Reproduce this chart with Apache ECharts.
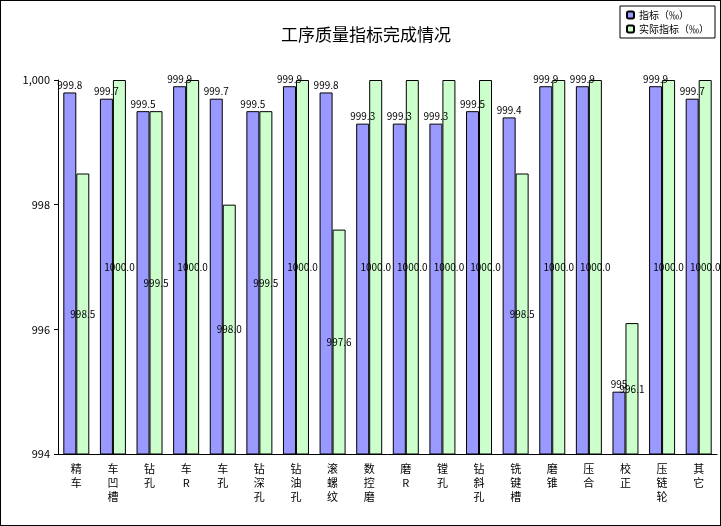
<!DOCTYPE html>
<html><head><meta charset="utf-8">
<script src="https://cdn.jsdelivr.net/npm/echarts@6/dist/echarts.min.js"></script>
<style>html,body{margin:0;padding:0;background:#fff}#c{width:721px;height:526px;box-sizing:border-box;border:1px solid #000}</style>
</head><body><div id="c"></div>
<script>
const categories = ['精车','车凹槽','钻孔','车R','车孔','钻深孔','钻油孔','滚螺纹','数控磨','磨R','镗孔','钻斜孔','铣键槽','磨锥','压合','校正','压链轮','其它'];
const target = [999.8,999.7,999.5,999.9,999.7,999.5,999.9,999.8,999.3,999.3,999.3,999.5,999.4,999.9,999.9,995,999.9,999.7];
const actual = [998.5,1000,999.5,1000,998.0,999.5,1000,997.6,1000,1000,1000,1000,998.5,1000,1000,996.1,1000,1000];
const yTicks = [994,996,998,1000];
const font = '"Noto Sans CJK SC", sans-serif';
const chart = echarts.init(document.getElementById('c'));
chart.setOption({
  animation:false,
  title:{text:'工序质量指标完成情况',left:360,top:20,textAlign:'center',textStyle:{fontFamily:font,fontSize:17,fontWeight:'normal',color:'#000'}},
  legend:{right:5,top:5,orient:'vertical',itemWidth:7,itemHeight:7,itemGap:4,borderColor:'#000',borderWidth:1,padding:[4,6],
    textStyle:{fontFamily:font,fontSize:10,color:'#000'}},
  grid:{left:57,right:3,top:79,bottom:71},
  xAxis:{type:'category',data:categories,axisTick:{show:false},axisLine:{lineStyle:{color:'#000'}},
    axisLabel:{interval:0,fontFamily:font,fontSize:11,color:'#000',lineHeight:14,formatter:v=>v.split('').join('\n')}},
  yAxis:{type:'value',min:yTicks[0],max:yTicks[yTicks.length-1],interval:2,splitLine:{show:false},
    axisLine:{show:true,lineStyle:{color:'#000'}},axisTick:{show:true,inside:false,length:4},
    axisLabel:{fontFamily:font,fontSize:11,color:'#000'}},
  series:[
    {name:'指标（‰）',type:'bar',data:target,barWidth:13,barGap:'0%',
     itemStyle:{color:'#9999FF',borderColor:'#000',borderWidth:1},
     label:{show:true,position:'top',distance:2,fontFamily:font,fontSize:10,color:'#000',formatter:p=>p.value.toFixed(1).replace(/\.0$/,'')}},
    {name:'实际指标（‰）',type:'bar',data:actual,barWidth:13,
     itemStyle:{color:'#CCFFCC',borderColor:'#000',borderWidth:1},
     label:{show:true,position:'inside',fontFamily:font,fontSize:10,color:'#000',formatter:p=>p.value.toFixed(1)}}
  ]
});
</script></body></html>
